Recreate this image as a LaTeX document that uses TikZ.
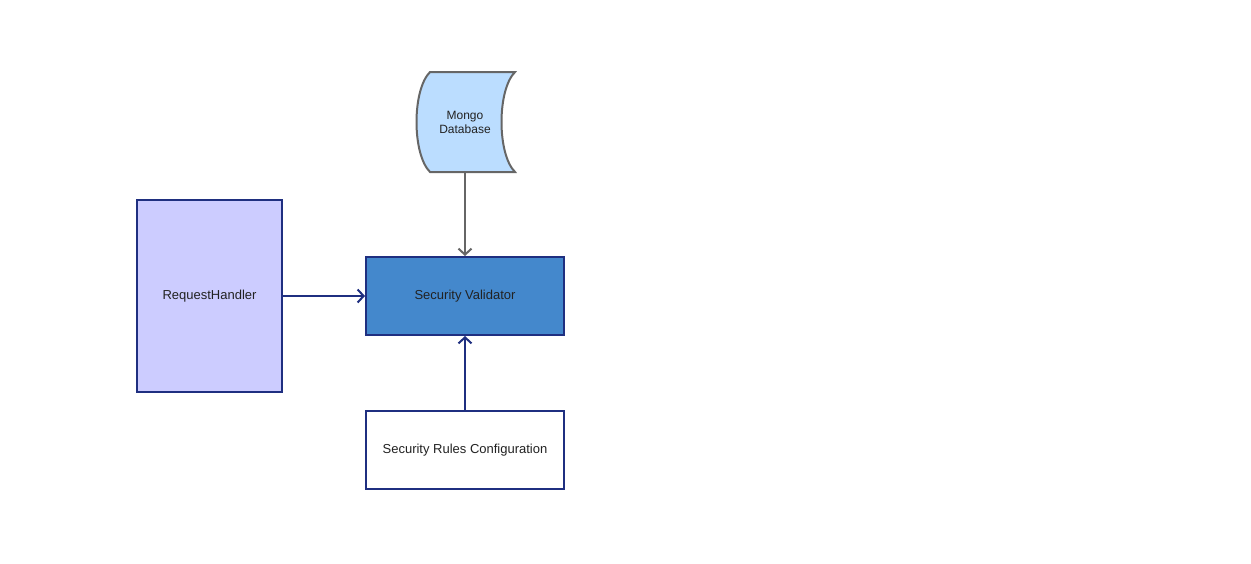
\documentclass[tikz,border=0pt]{standalone}
\usepackage{fontspec}
\setmainfont{Liberation Sans}
\usetikzlibrary{arrows.meta, positioning}

\definecolor{navy}{HTML}{1F2F80}
\definecolor{greyline}{HTML}{666666}
\definecolor{validfill}{HTML}{4488CC}
\definecolor{handlerfill}{HTML}{CCCCFF}
\definecolor{dbfill}{HTML}{BBDDFF}
\definecolor{textgrey}{HTML}{222222}

\tikzset{
	block/.style={draw=navy, line width=2pt, minimum width=198pt, minimum height=78pt, text=textgrey, font=\fontsize{13}{14}\selectfont},
	link/.style={-{Straight Barb[length=6pt, width=13pt]}, line width=2pt, draw=navy},
	dblink/.style={-{Straight Barb[length=6pt, width=13pt]}, line width=2pt, draw=greyline},
}

\begin{document}
\begin{tikzpicture}[x=1pt, y=-1pt, node distance=74pt]
	\useasboundingbox (0,0) rectangle (1251,563);

	\node[block, fill=validfill] 							(sv) 	at (465,296) {Security Validator};
	\node[block, fill=handlerfill, minimum width=145pt, minimum height=192pt] (rh) at (209.5,296) {RequestHandler};
	\node[block, fill=white] 								(src) 	[below=of sv] {Security Rules Configuration};

	% database drum
	\filldraw[fill=dbfill, draw=greyline, line width=2pt]
		(430,72) -- (515,72) .. controls (497,90) and (497,154) .. (515,172)
		-- (430,172) .. controls (412,154) and (412,90) .. (430,72) -- cycle;
	\node[minimum width=100pt, minimum height=100pt, align=center, text=textgrey, font=\fontsize{12}{14}\selectfont, inner sep=0pt] (db) at (465,122) {Mongo\\Database};

	\draw[dblink]	(db.south) 	-- (sv.north);
	\draw[link] 	(rh) 		-- (sv);
	\draw[link] 	(src) 		-- (sv);
\end{tikzpicture}
\end{document}
